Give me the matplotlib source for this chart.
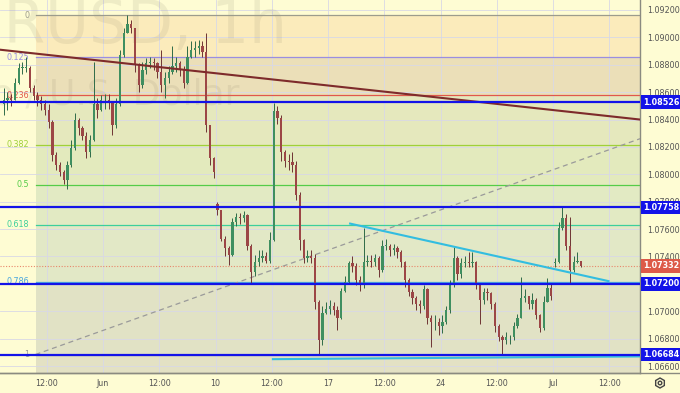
import numpy as np
import matplotlib.pyplot as plt
from matplotlib.patches import RegularPolygon, Circle
from matplotlib.lines import Line2D
from matplotlib.transforms import IdentityTransform

# EURUSD, 4h candles (open = previous close, except weekend gaps)
closes = [
    1.0854, 1.0856, 1.0854, 1.0867, 1.0878, 1.0878, 1.0878, 1.0863, 1.0857, 1.0854,
    1.0851, 1.0847, 1.0838, 1.0814, 1.0807, 1.0802, 1.0796, 1.0807, 1.0819, 1.0840,
    1.0834, 1.0828, 1.0816, 1.0825, 1.0851, 1.0847, 1.0854, 1.0854, 1.0853, 1.0836,
    1.0851, 1.0887, 1.0903, 1.0910, 1.0907, 1.0880, 1.0865, 1.0876, 1.0881, 1.0882,
    1.0881, 1.0875, 1.0865, 1.0870, 1.0875, 1.0879, 1.0881, 1.0876, 1.0867, 1.0886,
    1.0891, 1.0892, 1.0894, 1.0889, 1.0836, 1.0812, 1.0802, 1.0774, 1.0753, 1.0746,
    1.0741, 1.0765, 1.0769, 1.0768, 1.0770, 1.0748, 1.0729, 1.0736, 1.0739, 1.0740,
    1.0737, 1.0752, 1.0846, 1.0841, 1.0816, 1.0810, 1.0809, 1.0807, 1.0785, 1.0752,
    1.0739, 1.0740, 1.0739, 1.0707, 1.0679, 1.0699, 1.0702, 1.0704, 1.0701, 1.0695,
    1.0715, 1.0721, 1.0735, 1.0733, 1.0723, 1.0720, 1.0736, 1.0737, 1.0736, 1.0739,
    1.0730, 1.0748, 1.0748, 1.0745, 1.0746, 1.0743, 1.0736, 1.0723, 1.0714, 1.0710,
    1.0705, 1.0704, 1.0716, 1.0695, 1.0692, 1.0692, 1.0689, 1.0692, 1.0701, 1.0720,
    1.0739, 1.0727, 1.0735, 1.0736, 1.0735, 1.0736, 1.0719, 1.0708, 1.0714, 1.0713,
    1.0705, 1.0689, 1.0681, 1.0679, 1.0681, 1.0681, 1.0689, 1.0695, 1.0710, 1.0711,
    1.0705, 1.0708, 1.0697, 1.0688, 1.0707, 1.0717, 1.0711, 1.0736, 1.0761, 1.0768,
    1.0748, 1.0730, 1.0736, 1.0737, 1.07332]
highs = [
    1.0863, 1.0860, 1.0859, 1.0870, 1.0881, 1.0882, 1.0886, 1.0879, 1.0865, 1.0860,
    1.0857, 1.0854, 1.0851, 1.0840, 1.0816, 1.0809, 1.0803, 1.0810, 1.0825, 1.0845,
    1.0841, 1.0835, 1.0831, 1.0829, 1.0882, 1.0856, 1.0858, 1.0859, 1.0859, 1.0853,
    1.0856, 1.0891, 1.0907, 1.0916, 1.0913, 1.0907, 1.0881, 1.0882, 1.0885, 1.0886,
    1.0885, 1.0882, 1.0891, 1.0875, 1.0879, 1.0894, 1.0886, 1.0883, 1.0879, 1.0894,
    1.0897, 1.0897, 1.0898, 1.0897, 1.0903, 1.0834, 1.0813, 1.0780, 1.0772, 1.0755,
    1.0748, 1.0768, 1.0772, 1.0772, 1.0773, 1.0771, 1.0749, 1.0741, 1.0745, 1.0745,
    1.0743, 1.0758, 1.0852, 1.0850, 1.0843, 1.0818, 1.0815, 1.0816, 1.0810, 1.0787,
    1.0753, 1.0745, 1.0745, 1.0742, 1.0708, 1.0704, 1.0707, 1.0708, 1.0707, 1.0704,
    1.0717, 1.0726, 1.0737, 1.0740, 1.0735, 1.0726, 1.0761, 1.0741, 1.0741, 1.0742,
    1.0740, 1.0752, 1.0753, 1.0749, 1.0749, 1.0748, 1.0745, 1.0737, 1.0724, 1.0716,
    1.0711, 1.0708, 1.0719, 1.0717, 1.0697, 1.0697, 1.0695, 1.0697, 1.0704, 1.0723,
    1.0747, 1.0740, 1.0739, 1.0740, 1.0743, 1.0743, 1.0737, 1.0720, 1.0717, 1.0717,
    1.0714, 1.0707, 1.0691, 1.0683, 1.0685, 1.0683, 1.0692, 1.0698, 1.0725, 1.0716,
    1.0711, 1.0713, 1.0710, 1.0698, 1.0711, 1.0724, 1.0720, 1.0739, 1.0765, 1.0776,
    1.0771, 1.0769, 1.0740, 1.0743, 1.0737]
lows = [
    1.0843, 1.0847, 1.0850, 1.0854, 1.0866, 1.0873, 1.0875, 1.0860, 1.0854, 1.0850,
    1.0847, 1.0843, 1.0834, 1.0810, 1.0803, 1.0799, 1.0793, 1.0789, 1.0805, 1.0818,
    1.0829, 1.0825, 1.0812, 1.0813, 1.0824, 1.0841, 1.0846, 1.0848, 1.0848, 1.0829,
    1.0834, 1.0850, 1.0886, 1.0903, 1.0903, 1.0875, 1.0860, 1.0863, 1.0873, 1.0878,
    1.0876, 1.0870, 1.0860, 1.0856, 1.0867, 1.0873, 1.0875, 1.0872, 1.0863, 1.0866,
    1.0885, 1.0886, 1.0888, 1.0886, 1.0831, 1.0807, 1.0797, 1.0770, 1.0751, 1.0740,
    1.0734, 1.0740, 1.0762, 1.0764, 1.0765, 1.0745, 1.0720, 1.0726, 1.0733, 1.0736,
    1.0735, 1.0735, 1.0751, 1.0837, 1.0810, 1.0805, 1.0803, 1.0802, 1.0781, 1.0745,
    1.0735, 1.0736, 1.0735, 1.0702, 1.0668, 1.0675, 1.0698, 1.0698, 1.0697, 1.0686,
    1.0694, 1.0714, 1.0720, 1.0729, 1.0719, 1.0715, 1.0717, 1.0733, 1.0732, 1.0733,
    1.0725, 1.0729, 1.0745, 1.0740, 1.0741, 1.0739, 1.0732, 1.0718, 1.0711, 1.0705,
    1.0701, 1.0699, 1.0702, 1.0691, 1.0674, 1.0686, 1.0683, 1.0684, 1.0691, 1.0699,
    1.0718, 1.0723, 1.0724, 1.0732, 1.0732, 1.0732, 1.0716, 1.0691, 1.0705, 1.0708,
    1.0702, 1.0685, 1.0678, 1.0668, 1.0676, 1.0676, 1.0679, 1.0688, 1.0695, 1.0707,
    1.0702, 1.0702, 1.0694, 1.0685, 1.0686, 1.0707, 1.0708, 1.0732, 1.0735, 1.0759,
    1.0745, 1.0720, 1.0729, 1.0735, 1.0732]
first_open = 1.0851
gap_opens = {57: 1.0778, 147: 1.0735}

price_ticks = [1.066, 1.068, 1.070, 1.072, 1.074, 1.076, 1.078,
               1.080, 1.082, 1.084, 1.086, 1.088, 1.090, 1.092]
time_labels = ['12:00', 'Jun', '12:00', '10', '12:00', '17',
               '12:00', '24', '12:00', 'Jul', '12:00']
time_ticks = [11.5, 26.5, 41.5, 56.5, 71.5, 86.5, 101.5, 116.5, 131.5, 146.5, 161.5]

fib_high = 1.09163
fib_low = 1.06684
fib_ratios = [0, 0.125, 0.236, 0.382, 0.5, 0.618, 0.786, 1]
fib_labels = ['0', '0.125', '0.236', '0.382', '0.5', '0.618', '0.786', '1']
fib_start = 8.5

key_levels = [1.08526, 1.07758, 1.07200, 1.06684]
last_price = 1.07332

# drawings: (candle index, price) anchors
resist_line = [(-0.97, 1.0891), (169.7, 1.0840)]
fib_diag = [(8.5, 1.06684), (169.7, 1.0826)]
wedge_top = [(92.4, 1.0764), (161.3, 1.0722)]
wedge_base = [(71.8, 1.0665), (169.7, 1.0667)]

BG = '#fefcd3'
fib_colors = ['#9c9c8c', '#9a8ee0', '#e0584c', '#9fd03a', '#55cc48', '#3ccf9c', '#48a6de', '#9c9c9c']
fib_fills = ['#fbebbb', '#ebdfb8', '#e5e8bd', '#e3eabd', '#e2eac3', '#e2e8c6', '#e1e2c5']

XMIN, XMAX = -0.97, 169.7
YMIN, YMAX = 1.06549, 1.09273

fig = plt.figure(figsize=(6.8, 3.93), dpi=100, facecolor=BG)
ax = fig.add_axes([0, 20 / 393, 640 / 680, 373 / 393])
ax.set_facecolor(BG)
ax.set_xlim(XMIN, XMAX)
ax.set_ylim(YMIN, YMAX)

# fib background bands
levels = [fib_high - r * (fib_high - fib_low) for r in fib_ratios]
xs = [fib_start, XMAX + 5]
for i in range(len(levels) - 1):
    ax.fill_between(xs, levels[i + 1], levels[i], color=fib_fills[i], lw=0, zorder=0.5)
ax.fill_between(xs, YMIN - 0.01, fib_low, color='#e3e1c4', lw=0, zorder=0.5)

# grid
for p in price_ticks:
    ax.axhline(p, color='#d8d8e6', lw=0.6, zorder=1)
for t in time_ticks:
    ax.axvline(t, color='#d8d8e6', lw=0.6, zorder=1)

# watermark
ax.text(287 / 640, 1 - 43 / 373, 'EURUSD, 1h', transform=ax.transAxes, ha='right',
        va='baseline', fontsize=43, color='#8a8268', alpha=0.13, zorder=1.2, clip_on=True)
ax.text(240 / 640, 1 - 105 / 373, 'Euro / U.S. Dollar', transform=ax.transAxes, ha='right',
        va='baseline', fontsize=26, color='#8a8268', alpha=0.13, zorder=1.2, clip_on=True)

# fib levels
for lvl, lab, col in zip(levels, fib_labels, fib_colors):
    ax.plot([fib_start, XMAX + 5], [lvl, lvl], color=col, lw=0.9, zorder=2)
    ax.annotate(lab, xy=(fib_start, lvl), xytext=(-4.5, 0), textcoords='offset points',
                ha='right', va='center', fontsize=5.8, color=col, zorder=2)

ax.plot([p[0] for p in fib_diag], [p[1] for p in fib_diag], color='#9a9a9a',
        lw=0.9, ls=(0, (4, 3)), zorder=2)
ax.axhline(last_price, color='#e8876b', lw=0.8, ls=(0, (1, 1.5)), zorder=2)

# candles
x = np.arange(len(closes))
c = np.array(closes)
opens = np.array([first_open] + closes[:-1])
for k, v in gap_opens.items():
    opens[k] = v
up = c >= opens
ax.vlines(x, lows, highs, colors=np.where(up, '#2f6b48', '#6e3434'), lw=0.7, zorder=3)
body = np.maximum(np.abs(c - opens), 0.00004)
ax.bar(x, body, bottom=np.minimum(c, opens), width=0.6,
       color=np.where(up, '#3f8f60', '#9c4646'), lw=0, zorder=4)

# drawings
ax.axline(resist_line[0], resist_line[1], color='#7e2b2b', lw=1.5, zorder=5)
for lv in key_levels:
    ax.axhline(lv, color='#1313e8', lw=1.6, zorder=6)
ax.plot([p[0] for p in wedge_top], [p[1] for p in wedge_top], color='#33bde0', lw=1.5, zorder=6)
ax.plot([p[0] for p in wedge_base], [p[1] for p in wedge_base], color='#33bde0', lw=1.5, zorder=5.5)

# axes styling
ax.yaxis.tick_right()
ax.set_yticks(price_ticks)
ax.set_yticklabels([f'{p:.5f}' for p in price_ticks])
ax.set_xticks(time_ticks)
ax.set_xticklabels(time_labels)
ax.tick_params(axis='y', length=0, pad=5, labelsize=5.8, labelcolor='#555555')
ax.tick_params(axis='x', length=0, pad=4, labelsize=5.8, labelcolor='#555555')
for s in ['top', 'left']:
    ax.spines[s].set_visible(False)
for s in ['right', 'bottom']:
    ax.spines[s].set_color('#8a8a80')
    ax.spines[s].set_linewidth(1)
fig.add_artist(Line2D([0, 1], [20 / 393, 20 / 393], color='#8a8a80', lw=1,
                      transform=fig.transFigure))


def price_tag(p, fc):
    ax.annotate(f'{p:.5f}', xy=(1, p), xycoords=('axes fraction', 'data'),
                xytext=(2.6, 0), textcoords='offset points', ha='left', va='center',
                fontsize=5.8, color='white', fontweight='bold', zorder=10,
                bbox=dict(boxstyle='square,pad=0.3', fc=fc, ec='none'),
                annotation_clip=False)


for lv in key_levels:
    price_tag(lv, '#1313e8')
price_tag(last_price, '#dd5a48')

# settings gear
gear = RegularPolygon((660, 10), 6, radius=5, fill=False, ec='#444444', lw=1,
                      transform=IdentityTransform())
hub = Circle((660, 10), 1.8, fill=False, ec='#444444', lw=1, transform=IdentityTransform())
fig.add_artist(gear)
fig.add_artist(hub)

fig.savefig('out.png', dpi=100, facecolor=BG)
